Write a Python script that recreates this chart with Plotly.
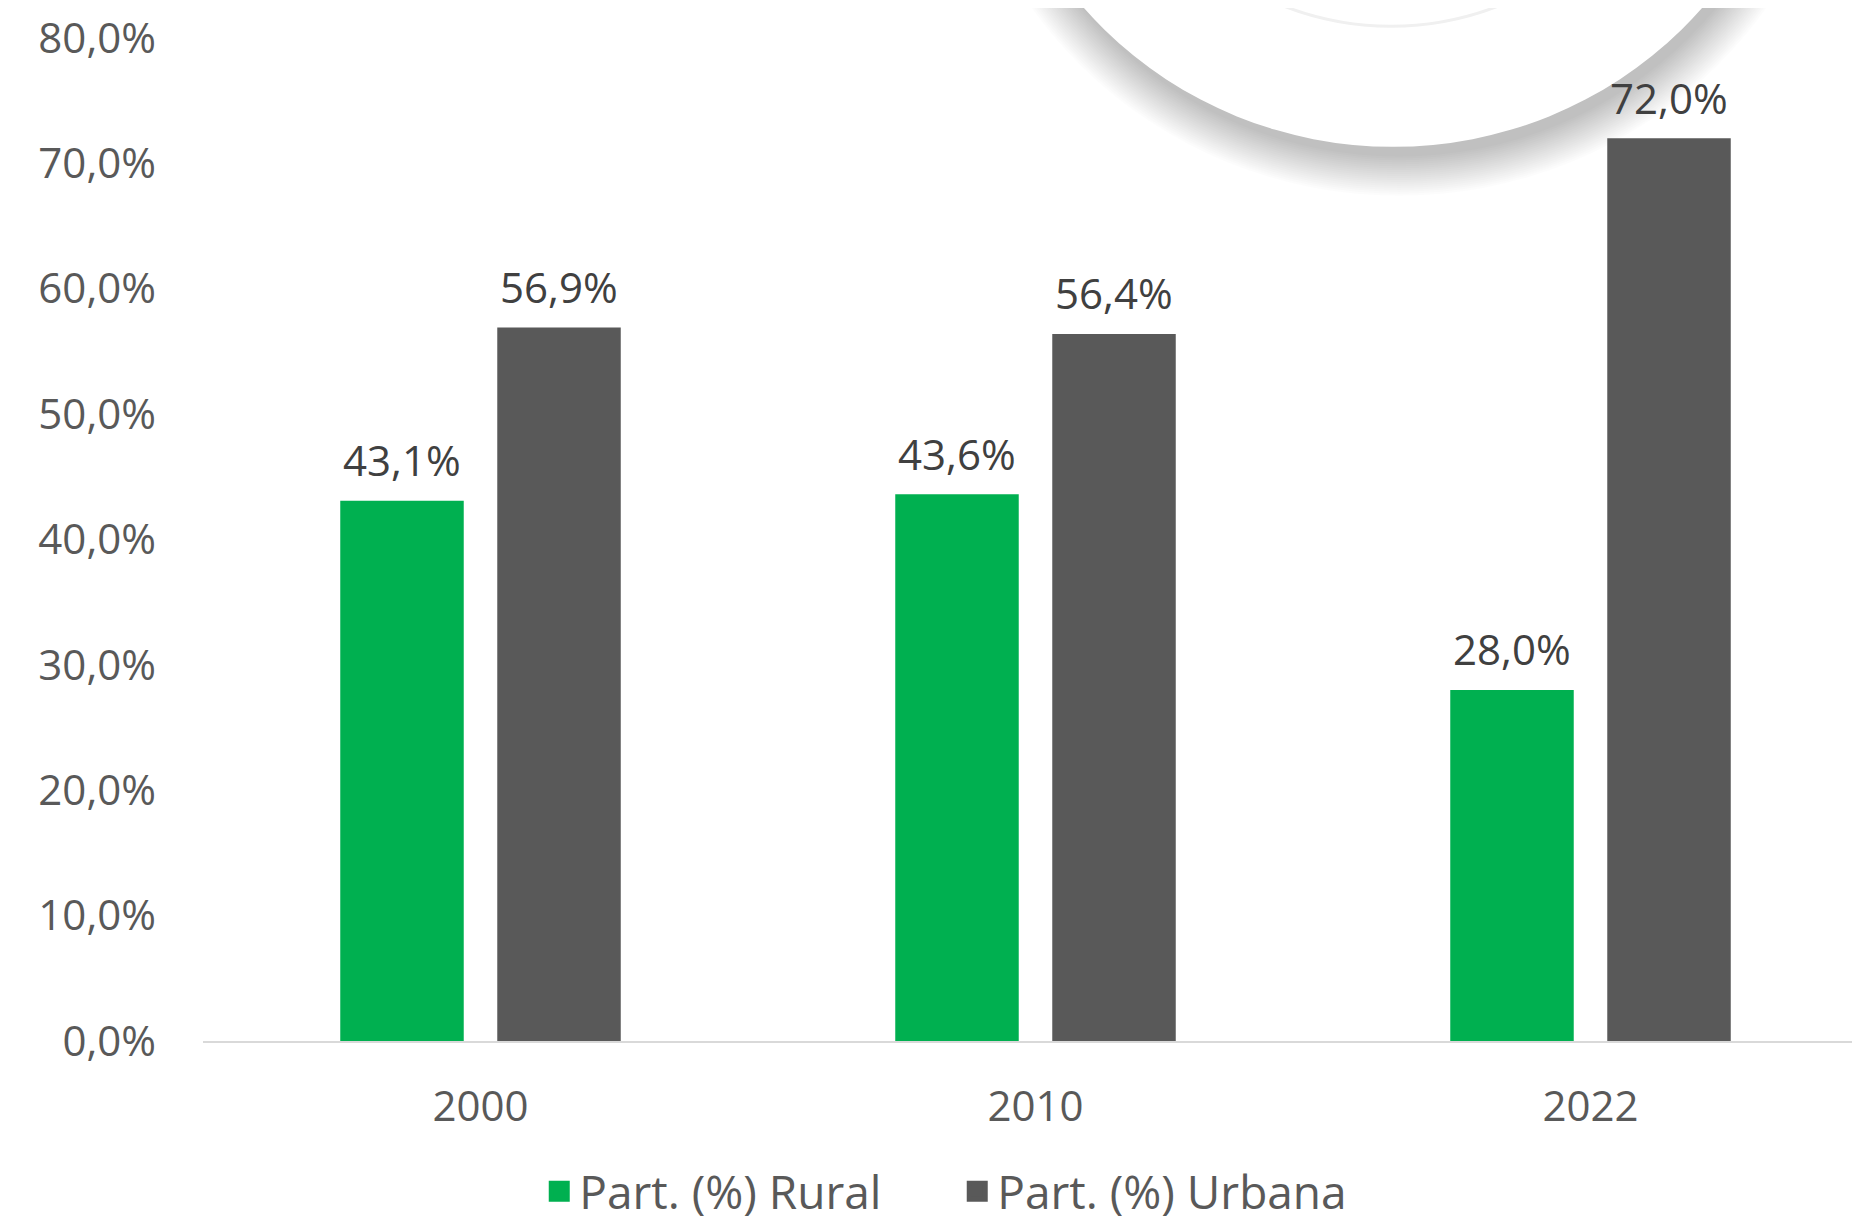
import plotly.graph_objects as go

# ---- data ----
categories = ["2000", "2010", "2022"]
rural = [43.1, 43.6, 28.0]
urbana = [56.9, 56.4, 72.0]
series_names = ["Part. (%) Rural", "Part. (%) Urbana"]
y_ticks = [0, 10, 20, 30, 40, 50, 60, 70, 80]
y_ticktext = ["0,0%", "10,0%", "20,0%", "30,0%", "40,0%", "50,0%", "60,0%", "70,0%", "80,0%"]

# ---- style ----
GREEN = "#00B050"
GRAY = "#595959"
LABEL_COLOR = "#404040"
TICK_COLOR = "#595959"
FONT = "'Open Sans', Lato, sans-serif"
FS = 42
W, H = 1860, 1220
ML, MR, MT, MB = 195, 0, 19, 178
BAR_W = 0.2225
GAP = 0.0302
idx = list(range(len(categories)))

fig = go.Figure()
fig.add_bar(x=idx, y=rural, width=BAR_W, offset=-(BAR_W + GAP),
            marker=dict(color=GREEN, line=dict(width=0)), showlegend=False, hoverinfo="y")
fig.add_bar(x=idx, y=urbana, width=BAR_W, offset=GAP,
            marker=dict(color=GRAY, line=dict(width=0)), showlegend=False, hoverinfo="y")

# legend entries
for name, col in zip(series_names, [GREEN, GRAY]):
    fig.add_scatter(x=[None], y=[None], mode="markers", name=name,
                    marker=dict(symbol="square", size=16, color=col, line=dict(width=5, color=col)))

# data labels
ann = []
for vals, sign in ((rural, -1), (urbana, 1)):
    for i, v in zip(idx, vals):
        ann.append(dict(x=i + sign * (BAR_W / 2 + GAP), y=v, xref="x", yref="y",
                        text=f"{v:.1f}%".replace(".", ","), showarrow=False,
                        yanchor="middle", yshift=41,
                        font=dict(size=FS, color=LABEL_COLOR, family=FONT)))

# decorative circle (pixel geometry -> paper coords)
PW = W - ML - MR
PH = H - MT - MB
def px_circle(cx, cy, r, **kw):
    return dict(type="circle", xref="paper", yref="paper",
                x0=(cx - r - ML) / PW, x1=(cx + r - ML) / PW,
                y0=(H - MB - (cy + r)) / PH, y1=(H - MB - (cy - r)) / PH,
                layer="below", **kw)

CX, CY, RAD = 1385, -278, 408
shapes = []
for k in range(0, 42, 2):
    shapes.append(px_circle(CX + 6, CY + 10, RAD + k, fillcolor="rgba(0,0,0,0.0105)",
                            line=dict(width=0)))
shapes.append(px_circle(CX, CY, RAD, fillcolor="white", line=dict(width=0)))
shapes.append(px_circle(1383, -283, 290, fillcolor="rgba(0,0,0,0)",
                        line=dict(width=3, color="#F0F0F0")))

fig.update_layout(
    width=W, height=H,
    margin=dict(l=ML, r=MR, t=MT, b=MB, pad=0),
    paper_bgcolor="white", plot_bgcolor="rgba(0,0,0,0)",
    barmode="overlay",
    separators=",.",
    font=dict(family=FONT, size=FS, color=TICK_COLOR),
    annotations=ann,
    shapes=shapes,
    legend=dict(orientation="h", x=0.453, xanchor="center", y=-0.15, yanchor="middle",
                font=dict(size=46, color=TICK_COLOR, family=FONT),
                entrywidth=373, entrywidthmode="pixels",
                itemsizing="trace", bgcolor="rgba(0,0,0,0)"),
    xaxis=dict(range=[-0.5, 2.5], tickvals=idx, ticktext=categories,
               showgrid=False, zeroline=False, showline=True, linecolor="#D9D9D9",
               linewidth=2, ticks="", ticklabelstandoff=28,
               tickfont=dict(size=FS, color=TICK_COLOR, family=FONT), fixedrange=True),
    yaxis=dict(range=[0, 80], tickvals=y_ticks, ticktext=y_ticktext,
               showgrid=False, zeroline=False, showline=False, ticks="",
               ticklabelstandoff=46, ticklabeloverflow="allow",
               tickfont=dict(size=FS, color=TICK_COLOR, family=FONT), fixedrange=True),
)

fig.write_html("out.html")
